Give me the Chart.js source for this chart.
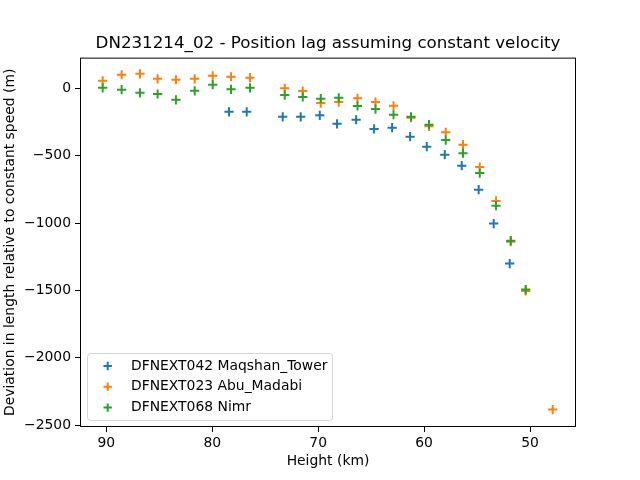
<!DOCTYPE html>
<html>
<head>
<meta charset="utf-8">
<script src="https://cdn.jsdelivr.net/npm/chart.js@4/dist/chart.umd.min.js"></script>
<style>html,body{margin:0;padding:0;background:#fff}</style>
</head>
<body>
<canvas id="myChart" width="640" height="480"></canvas>
<script>
// setup
const maqshanHeights = [78.42, 76.75, 73.35, 71.65, 69.85, 68.22, 66.42, 64.72, 63.02, 61.32, 59.75, 58.05, 56.45, 54.85, 53.43, 51.92];
const maqshanLag = [-174, -174, -211, -211, -200, -263, -233, -301, -292, -359, -433, -492, -574, -752, -1004, -1301];

const abuHeights = [90.35, 88.56, 86.83, 85.16, 83.43, 81.66, 79.96, 78.23, 76.44, 73.16, 71.46, 69.76, 68.06, 66.29, 64.59, 62.89, 61.24, 59.54, 57.96, 56.33, 54.75, 53.21, 51.82, 50.41, 47.86];
const abuLag = [56, 101, 108, 71, 64, 71, 93, 86, 79, 0, -20, -109, -102, -74, -102, -129, -218, -282, -326, -418, -584, -836, -1138, -1504, -2385];

const nimrHeights = [90.35, 88.56, 86.83, 85.16, 83.43, 81.66, 79.96, 78.23, 76.44, 73.16, 71.46, 69.76, 68.06, 66.29, 64.59, 62.89, 61.24, 59.54, 57.96, 56.33, 54.75, 53.21, 51.82, 50.41];
const nimrLag = [4, -10, -33, -42, -85, -18, 27, -7, 4, -50, -64, -77, -70, -131, -154, -196, -211, -270, -384, -481, -629, -871, -1131, -1494];

const xTicks = [90, 80, 70, 60, 50];
const yTicks = [0, -500, -1000, -1500, -2000, -2500];

const toPoints = (xs, ys) => xs.map((x, i) => ({x: x, y: ys[i]}));
const minus = v => String(v).replace('-', '\u2212');

Chart.defaults.font.family = 'DejaVu Sans';
Chart.defaults.color = '#000';

const data = {
  datasets: [{
    label: 'DFNEXT042 Maqshan_Tower',
    data: toPoints(maqshanHeights, maqshanLag),
    borderColor: '#1f77b4',
    order: 2
  }, {
    label: 'DFNEXT023 Abu_Madabi',
    data: toPoints(abuHeights, abuLag),
    borderColor: '#ff7f0e',
    order: 1
  }, {
    label: 'DFNEXT068 Nimr',
    data: toPoints(nimrHeights, nimrLag),
    borderColor: '#2ca02c',
    order: 0
  }]
};
data.datasets.forEach(d => {
  d.pointStyle = 'cross';
  d.pointRadius = 4.6;
  d.pointBorderWidth = 2;
  d.backgroundColor = d.borderColor;
  d.pointHoverRadius = 4.6;
});

// frame and legend drawn inside the axes, like matplotlib
const boxPlugin = {
  id: 'boxPlugin',
  afterDraw(chart) {
    const ctx = chart.ctx;
    const a = chart.chartArea;
    ctx.save();
    ctx.strokeStyle = '#000';
    ctx.lineWidth = 1;
    ctx.strokeRect(a.left + 0.5, a.top + 0.5, a.right - a.left - 1, a.bottom - a.top - 1);

    // legend
    const lx = 87.5, ly = 353.5, lw = 245, lh = 67, r = 3;
    ctx.beginPath();
    ctx.moveTo(lx + r, ly);
    ctx.arcTo(lx + lw, ly, lx + lw, ly + lh, r);
    ctx.arcTo(lx + lw, ly + lh, lx, ly + lh, r);
    ctx.arcTo(lx, ly + lh, lx, ly, r);
    ctx.arcTo(lx, ly, lx + lw, ly, r);
    ctx.closePath();
    ctx.fillStyle = 'rgba(255,255,255,0.8)';
    ctx.fill();
    ctx.strokeStyle = 'rgba(204,204,204,0.8)';
    ctx.stroke();

    ctx.font = '13.9px "DejaVu Sans"';
    ctx.textBaseline = 'middle';
    ctx.textAlign = 'left';
    chart.data.datasets.forEach((d, i) => {
      const y = 366 + i * 20.8;
      ctx.strokeStyle = d.borderColor;
      ctx.lineWidth = 2;
      ctx.beginPath();
      ctx.moveTo(107.7 - 4.2, y); ctx.lineTo(107.7 + 4.2, y);
      ctx.moveTo(107.7, y - 4.2); ctx.lineTo(107.7, y + 4.2);
      ctx.stroke();
      ctx.fillStyle = '#000';
      ctx.fillText(d.label, 131, y);
    });
    ctx.restore();
  }
};

// config
const config = {
  type: 'scatter',
  data,
  options: {
    responsive: false,
    devicePixelRatio: 1,
    animation: false,
    layout: {padding: {left: 0, right: 64, top: 0, bottom: 0}},
    plugins: {
      legend: {display: false},
      tooltip: {enabled: false},
      title: {
        display: true,
        fullSize: false,
        text: 'DN231214_02 - Position lag assuming constant velocity',
        font: {size: 16.7, weight: 'normal'},
        padding: {top: 34, bottom: 3.6}
      }
    },
    scales: {
      x: {
        type: 'linear',
        reverse: true,
        min: 45.66,
        max: 92.49,
        afterFit(scale) { scale.height = 53; },
        afterBuildTicks(scale) { scale.ticks = xTicks.map(v => ({value: v})); },
        grid: {drawOnChartArea: false, drawTicks: true, tickLength: 5, color: '#000'},
        border: {display: false},
        ticks: {font: {size: 13.9}, padding: 3, maxRotation: 0, callback: v => minus(v)},
        title: {display: true, text: 'Height (km)', font: {size: 13.9}, padding: {top: 0, bottom: 10}}
      },
      y: {
        type: 'linear',
        min: -2514,
        max: 228,
        afterFit(scale) { scale.width = 80; },
        afterBuildTicks(scale) { scale.ticks = yTicks.map(v => ({value: v})); },
        grid: {drawOnChartArea: false, drawTicks: true, tickLength: 5, color: '#000'},
        border: {display: false},
        ticks: {font: {size: 13.9}, padding: 4, callback: v => minus(v)},
        title: {display: true, text: 'Deviation in length relative to constant speed (m)', font: {size: 13.9}, padding: {top: 2, bottom: 0}}
      }
    }
  },
  plugins: [boxPlugin]
};

// render init block
const myChart = new Chart(document.getElementById('myChart'), config);
</script>
</body>
</html>
